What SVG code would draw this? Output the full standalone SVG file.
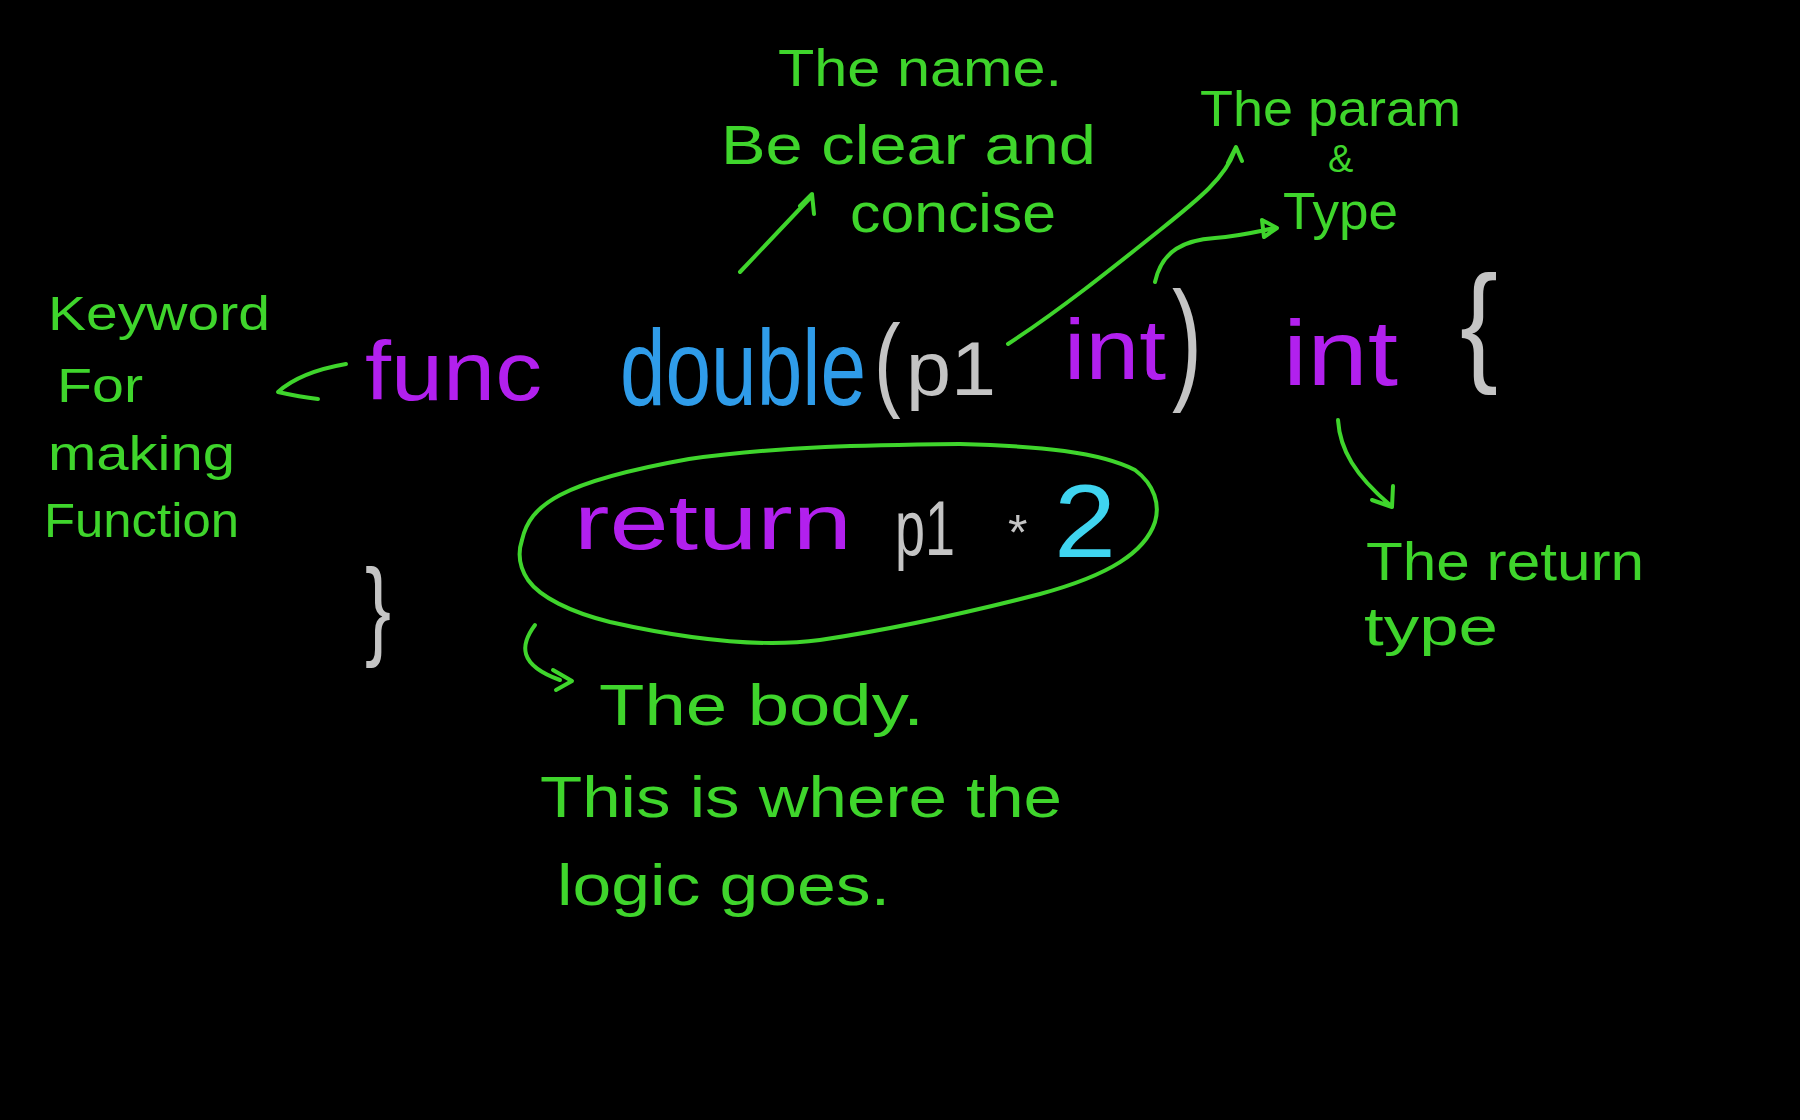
<svg xmlns="http://www.w3.org/2000/svg" width="1800" height="1120" viewBox="0 0 1800 1120">
<style>
.note{font-family:"Liberation Sans","Open Sans",sans-serif;fill:#3fd52c;}
.code{font-family:"Liberation Sans","Open Sans",sans-serif;}
.kw{fill:#b220ee;}
.fn{fill:#2f9ce9;}
.gr{fill:#c4c4c4;}
.num{fill:#3fd4ef;}
.conn path{fill:none;stroke:#3fd52c;stroke-width:4;stroke-linecap:round;stroke-linejoin:round;}
</style>
<rect x="0" y="0" width="1800" height="1120" fill="#000"/>

<g id="code-func"><text class="code kw" x="365" y="400" font-size="84" textLength="177" lengthAdjust="spacingAndGlyphs">func</text></g>
<g id="code-double"><text class="code fn" transform="translate(620,405) scale(1,1.32)" x="0" y="0" font-size="82" textLength="246" lengthAdjust="spacingAndGlyphs">double</text></g>
<g id="code-params">
<text class="code gr" transform="translate(874,397) scale(1,1.3)" x="0" y="0" font-size="80">(</text>
<text class="code gr" x="906" y="395" font-size="76" textLength="90" lengthAdjust="spacingAndGlyphs">p1</text>
<text class="code kw" x="1064" y="379" font-size="86" textLength="102" lengthAdjust="spacingAndGlyphs">int</text>
<text class="code gr" x="1172" y="385" font-size="134" textLength="30" lengthAdjust="spacingAndGlyphs">)</text>
</g>
<g id="code-return-type"><text class="code kw" x="1283" y="385" font-size="92" textLength="115" lengthAdjust="spacingAndGlyphs">int</text></g>
<g id="code-open-brace"><text class="code gr" x="1460" y="368" font-size="131" textLength="38" lengthAdjust="spacingAndGlyphs">{</text></g>
<g id="code-close-brace"><text class="code gr" x="365" y="645" font-size="110" textLength="26" lengthAdjust="spacingAndGlyphs">}</text></g>

<g id="body">
<path d="M522,540 C530,505 560,482 689,459 C780,446 872,445 960,444 C1040,446 1100,452 1135,470 C1155,485 1160,505 1155,522 C1145,552 1110,575 1040,594 C970,612 900,628 820,640 C760,648 690,640 610,622 C570,612 540,597 528,580 C518,565 518,552 522,540 Z" fill="none" stroke="#3fd52c" stroke-width="4"/>
<text class="code kw" x="574" y="549" font-size="78" textLength="278" lengthAdjust="spacingAndGlyphs">return</text>
<text class="code gr" x="895" y="555" font-size="78" textLength="60" lengthAdjust="spacingAndGlyphs">p1</text>
<text class="code gr" x="1008" y="550" font-size="50">*</text>
<text class="code num" x="1054" y="557" font-size="104" textLength="62" lengthAdjust="spacingAndGlyphs">2</text>
</g>

<g id="note-keyword">
<text class="note" x="48" y="330" font-size="48" textLength="222" lengthAdjust="spacingAndGlyphs">Keyword</text>
<text class="note" x="57" y="402" font-size="48" textLength="86" lengthAdjust="spacingAndGlyphs">For</text>
<text class="note" x="48" y="470" font-size="48" textLength="187" lengthAdjust="spacingAndGlyphs">making</text>
<text class="note" x="44" y="537" font-size="48" textLength="195" lengthAdjust="spacingAndGlyphs">Function</text>
</g>
<g id="note-name">
<text class="note" x="778" y="86" font-size="52" textLength="284" lengthAdjust="spacingAndGlyphs">The name.</text>
<text class="note" x="721" y="164" font-size="56" textLength="375" lengthAdjust="spacingAndGlyphs">Be clear and</text>
<text class="note" x="850" y="232" font-size="56" textLength="206" lengthAdjust="spacingAndGlyphs">concise</text>
</g>
<g id="note-param">
<text class="note" x="1200" y="126" font-size="50" textLength="261" lengthAdjust="spacingAndGlyphs">The param</text>
<text class="note" x="1328" y="172" font-size="38">&amp;</text>
<text class="note" x="1283" y="229" font-size="52" textLength="115" lengthAdjust="spacingAndGlyphs">Type</text>
</g>
<g id="note-return">
<text class="note" x="1366" y="580" font-size="54" textLength="278" lengthAdjust="spacingAndGlyphs">The return</text>
<text class="note" x="1364" y="645" font-size="54" textLength="134" lengthAdjust="spacingAndGlyphs">type</text>
</g>
<g id="note-body">
<text class="note" x="599" y="725" font-size="58" textLength="325" lengthAdjust="spacingAndGlyphs">The body.</text>
<text class="note" x="540" y="817" font-size="58" textLength="522" lengthAdjust="spacingAndGlyphs">This is where the</text>
<text class="note" x="557" y="905" font-size="58" textLength="333" lengthAdjust="spacingAndGlyphs">logic goes.</text>
</g>

<g id="connectors" class="conn">
<path d="M346,364 Q300,372 278,392 Q300,397 318,399"/>
<path d="M740,272 L812,196 M800,206 L812,194 L814,214"/>
<path d="M1008,344 C1060,310 1110,270 1160,230 C1200,198 1225,178 1235,150 M1228,163 L1236,147 L1242,161"/>
<path d="M1155,282 C1162,250 1185,240 1215,238 C1240,236 1255,232 1275,228 M1262,220 L1277,228 L1264,237 Z"/>
<path d="M1338,420 C1340,450 1355,475 1390,505 M1372,500 L1392,507 L1393,486"/>
<path d="M535,625 C520,645 518,665 560,680 M553,670 L572,681 L556,690"/>
</g>
</svg>
